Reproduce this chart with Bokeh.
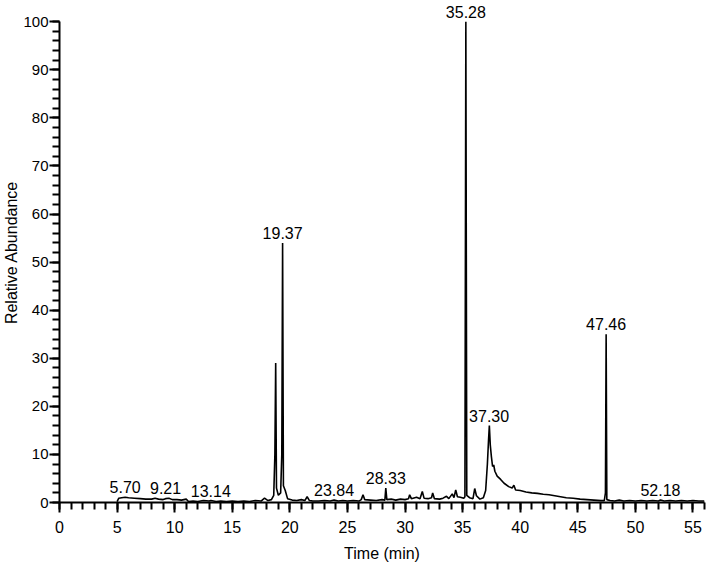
from bokeh.plotting import figure
from bokeh.models import Range1d, FixedTicker, ColumnDataSource, LabelSet
from bokeh.core.properties import value
from bokeh.embed import file_html
from bokeh.resources import INLINE

# chromatogram trace (time in min, relative abundance %)
time_min = [5.00, 5.15, 5.40, 5.70, 6.00, 6.50, 7.00, 7.50, 8.00, 8.30, 8.60, 9.00, 9.21, 9.50, 9.80,
            10.20, 10.60, 11.00, 11.20, 11.60, 12.00, 12.50, 13.00, 13.14, 13.60, 14.00, 14.50, 15.00,
            15.50, 16.00, 16.50, 17.00, 17.50, 17.80, 18.10, 18.40, 18.60, 18.70, 18.77, 18.84, 19.00,
            19.20, 19.30, 19.37, 19.44, 19.60, 19.80, 20.20, 20.60, 21.00, 21.30, 21.50, 21.70, 22.00,
            22.50, 23.00, 23.50, 23.84, 24.20, 24.60, 25.00, 25.50, 26.00, 26.20, 26.35, 26.50, 27.00,
            27.50, 28.00, 28.25, 28.33, 28.42, 28.80, 29.20, 29.60, 30.00, 30.30, 30.40, 30.55, 31.00,
            31.30, 31.50, 31.65, 32.00, 32.30, 32.40, 32.55, 33.00, 33.30, 33.60, 33.80, 34.10, 34.25,
            34.40, 34.55, 34.80, 35.10, 35.20, 35.28, 35.36, 35.60, 35.90, 36.05, 36.20, 36.50, 36.80,
            37.00, 37.15, 37.25, 37.32, 37.40, 37.50, 37.60, 37.70, 37.80, 38.00, 38.30, 38.60, 39.00,
            39.30, 39.45, 39.60, 40.00, 40.50, 41.00, 41.50, 42.00, 42.50, 43.00, 43.50, 44.00, 44.60,
            45.20, 45.80, 46.40, 47.00, 47.30, 47.40, 47.46, 47.52, 47.80, 48.20, 48.60, 49.00, 49.50,
            50.00, 50.50, 51.00, 51.50, 52.00, 52.18, 52.50, 53.00, 53.50, 54.00, 54.50, 55.00, 55.50,
            56.00]
abundance = [0.2, 0.9, 1.0, 1.1, 1.0, 0.9, 0.8, 0.7, 0.7, 0.9, 0.7, 0.6, 0.8, 0.9, 0.6,
             0.6, 0.5, 0.7, 0.2, 0.3, 0.2, 0.4, 0.3, 0.4, 0.2, 0.3, 0.2, 0.3,
             0.2, 0.3, 0.2, 0.4, 0.3, 0.9, 0.4, 0.6, 1.5, 10.0, 29.0, 3.0, 1.5,
             2.0, 10.0, 54.0, 3.5, 2.5, 0.8, 0.5, 0.4, 0.6, 0.4, 1.2, 0.4, 0.3,
             0.3, 0.4, 0.3, 0.5, 0.3, 0.4, 0.3, 0.4, 0.3, 0.6, 1.6, 0.6, 0.5,
             0.4, 0.6, 0.5, 3.0, 0.6, 0.7, 0.5, 0.7, 0.6, 0.8, 1.6, 0.8, 1.1,
             0.8, 2.3, 0.9, 0.8, 1.0, 2.0, 0.8, 0.7, 0.9, 1.3, 0.8, 1.8, 1.0,
             2.6, 1.2, 1.1, 0.9, 1.2, 100.0, 1.5, 1.0, 0.8, 2.9, 1.4, 0.7, 1.0,
             2.5, 8.0, 13.0, 16.0, 12.0, 9.5, 7.5, 7.8, 6.5, 5.5, 4.8, 4.0, 3.3,
             3.0, 3.6, 2.6, 2.5, 2.2, 2.0, 1.9, 1.7, 1.6, 1.4, 1.2, 1.0, 0.9,
             0.7, 0.6, 0.5, 0.4, 0.4, 2.0, 35.0, 0.6, 0.4, 0.3, 0.5, 0.3, 0.4,
             0.3, 0.4, 0.3, 0.4, 0.3, 0.5, 0.3, 0.4, 0.3, 0.4, 0.3, 0.4, 0.3,
             0.3]

# annotated peaks
peak_times = [5.70, 9.21, 13.14, 19.37, 23.84, 28.33, 35.28, 37.30, 47.46, 52.18]
peak_heights = [1.1, 0.9, 0.4, 54.0, 0.5, 3.0, 100.0, 16.0, 35.0, 0.5]
peak_labels = ["5.70", "9.21", "13.14", "19.37", "23.84", "28.33", "35.28", "37.30", "47.46", "52.18"]

x_major = [0, 5, 10, 15, 20, 25, 30, 35, 40, 45, 50, 55]
x_minor = list(range(0, 57))
y_major = [0, 10, 20, 30, 40, 50, 60, 70, 80, 90, 100]
y_minor = list(range(0, 101, 2))

FONT = "Liberation Sans"

p = figure(width=710, height=568, output_backend="svg", toolbar_location=None,
           x_range=Range1d(0, 56), y_range=Range1d(0, 104),
           min_border_left=57, min_border_right=6, min_border_top=2, min_border_bottom=66)
p.grid.visible = False
p.outline_line_color = None
p.background_fill_color = "white"

p.line(time_min, abundance, line_color="black", line_width=1.6)

src = ColumnDataSource(dict(x=peak_times, y=peak_heights, t=peak_labels))
labels = LabelSet(x="x", y="y", text="t", source=src, text_align="center",
                  text_baseline="bottom", y_offset=4, text_font=value(FONT),
                  text_font_size=value("16px"), text_color="black")
p.add_layout(labels)

for ax in (p.xaxis[0], p.yaxis[0]):
    ax.axis_line_width = 2
    ax.axis_line_color = "black"
    ax.major_tick_line_width = 2
    ax.minor_tick_line_width = 2
    ax.major_tick_in = 0
    ax.minor_tick_in = 0
    ax.major_tick_out = 10
    ax.minor_tick_out = 7
    ax.major_label_text_font = FONT
    ax.major_label_text_color = "black"
    ax.axis_label_text_font = FONT
    ax.axis_label_text_font_style = "normal"
    ax.axis_label_text_color = "black"

p.xaxis.major_label_text_font_size = "16px"
p.yaxis.major_label_text_font_size = "15px"
p.xaxis.axis_label_text_font_size = "16px"
p.yaxis.axis_label_text_font_size = "16px"
p.yaxis.bounds = (0, 100)
p.xaxis.ticker = FixedTicker(ticks=x_major, minor_ticks=x_minor)
p.yaxis.ticker = FixedTicker(ticks=y_major, minor_ticks=y_minor)
p.xaxis.axis_label = "Time (min)"
p.yaxis.axis_label = "Relative Abundance"
p.xaxis.major_label_standoff = 8
p.yaxis.major_label_standoff = 1
p.xaxis.axis_label_standoff = 9
p.yaxis.axis_label_standoff = 0

open("out.html", "w").write(file_html(p, INLINE))
